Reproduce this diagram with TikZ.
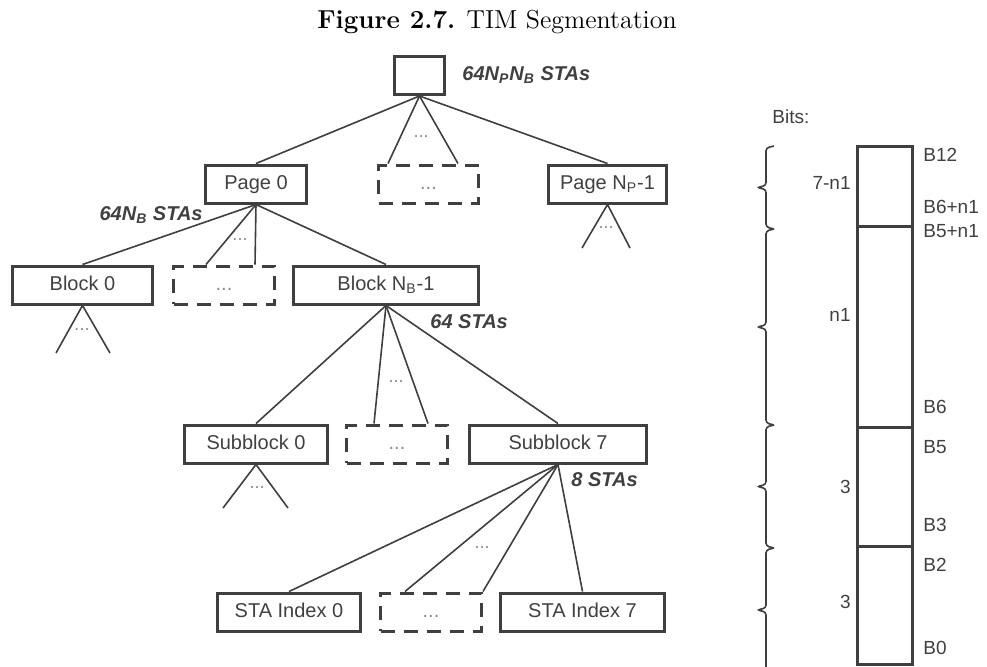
\documentclass[tikz,border=0pt]{standalone}
\usepackage{fontspec}
\newfontfamily\arialfont{Liberation Sans}
\usepackage{xcolor}
\usepackage{tikz}
\usetikzlibrary{positioning, calc}

\definecolor{linegray}{HTML}{3F3F3F}
\definecolor{textgray}{HTML}{404040}
\definecolor{dotgray}{HTML}{8A8A8A}

\tikzset{
  box/.style={draw=linegray, line width=1.5pt, minimum height=19pt, inner sep=0pt,
    text height=7.5pt, text depth=2pt, text=textgray, font=\arialfont\fontsize{10}{12}\selectfont},
  dotbox/.style={box, dash pattern=on 7pt off 4.5pt, text=dotgray},
  link/.style={draw=linegray, line width=0.8pt},
  count/.style={inner sep=0pt, text=textgray, font=\arialfont\bfseries\itshape\fontsize{10}{12}\selectfont},
  dots/.style={text=dotgray, font=\arialfont\fontsize{9}{10}\selectfont},
  field/.style={draw=linegray, line width=1.5pt, minimum width=27.5pt, inner sep=0pt},
  bitlbl/.style={inner sep=0pt, text=textgray, font=\arialfont\fontsize{9.5}{11}\selectfont},
  bracket/.style={draw=linegray, line width=0.8pt, rounded corners=1.5pt}
}

\begin{document}
\begin{tikzpicture}[x=0.5pt, y=-0.5pt]
  \useasboundingbox (0,0) rectangle (987,666);

  % Caption
  \node[font=\fontsize{13}{15}\selectfont] (title) at (497,22) {\textbf{Figure 2.7.} TIM Segmentation};

  % Root of the tree
  \node[box, minimum width=25pt] (root) at (419.5,75.5) {};
  \node[count, anchor=west] (rootcount) at (462,75) {64N\textsubscript{P}N\textsubscript{B} STAs};

  % Pages
  \node[box, minimum width=50.5pt] (page0) at (256,184) {Page 0};
  \node[dotbox, minimum width=50pt] (pagedots) at (428.5,184) {...};
  \node[box, minimum width=59pt] (pagelast) at (607.5,184) {Page N\textsubscript{P}-1};

  % Blocks
  \node[box, minimum width=70pt] (block0) at (82.5,285) {Block 0};
  \node[dotbox, minimum width=50.5pt] (blockdots) at (224,285) {...};
  \node[box, minimum width=92.5pt] (blocklast) at (386,285) {Block N\textsubscript{B}-1};
  \node[count, anchor=east] (pagecount) at (203,215) {64N\textsubscript{B} STAs};

  % Subblocks
  \node[box, minimum width=71.5pt] (sub0) at (256,444) {Subblock 0};
  \node[dotbox, minimum width=50.5pt] (subdots) at (397,444) {...};
  \node[box, minimum width=88.5pt] (sublast) at (558,444) {Subblock 7};
  \node[count, anchor=west] (blockcount) at (430,322) {64 STAs};

  % STA indices
  \node[box, minimum width=71.5pt] (sta0) at (289,612) {STA Index 0};
  \node[dotbox, minimum width=50.5pt] (stadots) at (431,612) {...};
  \node[box, minimum width=82pt] (stalast) at (582.5,612) {STA Index 7};
  \node[count, anchor=west] (subcount) at (571,480) {8 STAs};

  % Root -> pages
  \draw[link] (root.south) -- (page0.north);
  \draw[link] (root.south) -- ([xshift=5.5pt]pagedots.north west);
  \draw[link] (root.south) -- ([xshift=-11pt]pagedots.north east);
  \draw[link] (root.south) -- (pagelast.north);
  \node[dots] (rootdots) at (421,137) {...};

  % Page 0 -> blocks
  \draw[link] (page0.south) -- (block0.north);
  \draw[link] (page0.south) -- ([xshift=17pt]blockdots.north west);
  \draw[link] (page0.south) -- ([xshift=-10.5pt]blockdots.north east);
  \draw[link] (page0.south) -- (blocklast.north);
  \node[dots] (pagedots2) at (240,240) {...};

  % Block N_B-1 -> subblocks
  \draw[link] (blocklast.south) -- (sub0.north);
  \draw[link] (blocklast.south) -- ([xshift=14.5pt]subdots.north west);
  \draw[link] (blocklast.south) -- ([xshift=-10.5pt]subdots.north east);
  \draw[link] (blocklast.south) -- (sublast.north);
  \node[dots] (blockdots2) at (396,382) {...};

  % Subblock 7 -> STA indices
  \draw[link] (sublast.south) -- (sta0.north);
  \draw[link] (sublast.south) -- ([xshift=13pt]stadots.north west);
  \draw[link] (sublast.south) -- (stadots.north east);
  \draw[link] (sublast.south) -- (stalast.north);
  \node[dots] (subdots2) at (482,548) {...};

  % Collapsed subtrees
  \coordinate (pl1) at (582,248);
  \coordinate (pl2) at (630,248);
  \draw[link] (pl1) -- (pagelast.south) -- (pl2);
  \node[dots] at (606,228) {...};
  \coordinate (bl1) at (56,353);
  \coordinate (bl2) at (110,353);
  \draw[link] (bl1) -- (block0.south) -- (bl2);
  \node[dots] at (82,330) {...};
  \coordinate (sl1) at (223,508);
  \coordinate (sl2) at (288,508);
  \draw[link] (sl1) -- (sub0.south) -- (sl2);
  \node[dots] at (257,488) {...};

  % Bit fields
  \node[bitlbl, anchor=west] (bits) at (772,117) {Bits:};
  \node[field, minimum height=39.75pt] (fld1) at (885,186.25) {};
  \node[field, minimum height=100.5pt] (fld2) at (885,326.5) {};
  \node[field, minimum height=59.5pt] (fld3) at (885,486.5) {};
  \node[field, minimum height=59.25pt] (fld4) at (885,605.25) {};

  % Brackets over the bit ranges
  \foreach \ytop/\ybot in {146/229, 229/425, 425/548, 548/672} {
    \pgfmathsetmacro\ymid{(\ytop+\ybot)/2}
    \draw[bracket] (774,\ytop) -- (766,\ytop+2) -- (766,\ymid-2) -- (757,\ymid)
      -- (766,\ymid+2) -- (766,\ybot-2) -- (774,\ybot);
  }

  \node[bitlbl, anchor=east] at (851,183) {7-n1};
  \node[bitlbl, anchor=east] at (851,315) {n1};
  \node[bitlbl, anchor=east] at (851,487) {3};
  \node[bitlbl, anchor=east] at (851,602) {3};

  \node[bitlbl, anchor=west] at (923,155) {B12};
  \node[bitlbl, anchor=west] at (923,207) {B6+n1};
  \node[bitlbl, anchor=west] at (923,231) {B5+n1};
  \node[bitlbl, anchor=west] at (923,407) {B6};
  \node[bitlbl, anchor=west] at (923,447) {B5};
  \node[bitlbl, anchor=west] at (923,525) {B3};
  \node[bitlbl, anchor=west] at (923,565) {B2};
  \node[bitlbl, anchor=west] at (923,648) {B0};
\end{tikzpicture}
\end{document}
